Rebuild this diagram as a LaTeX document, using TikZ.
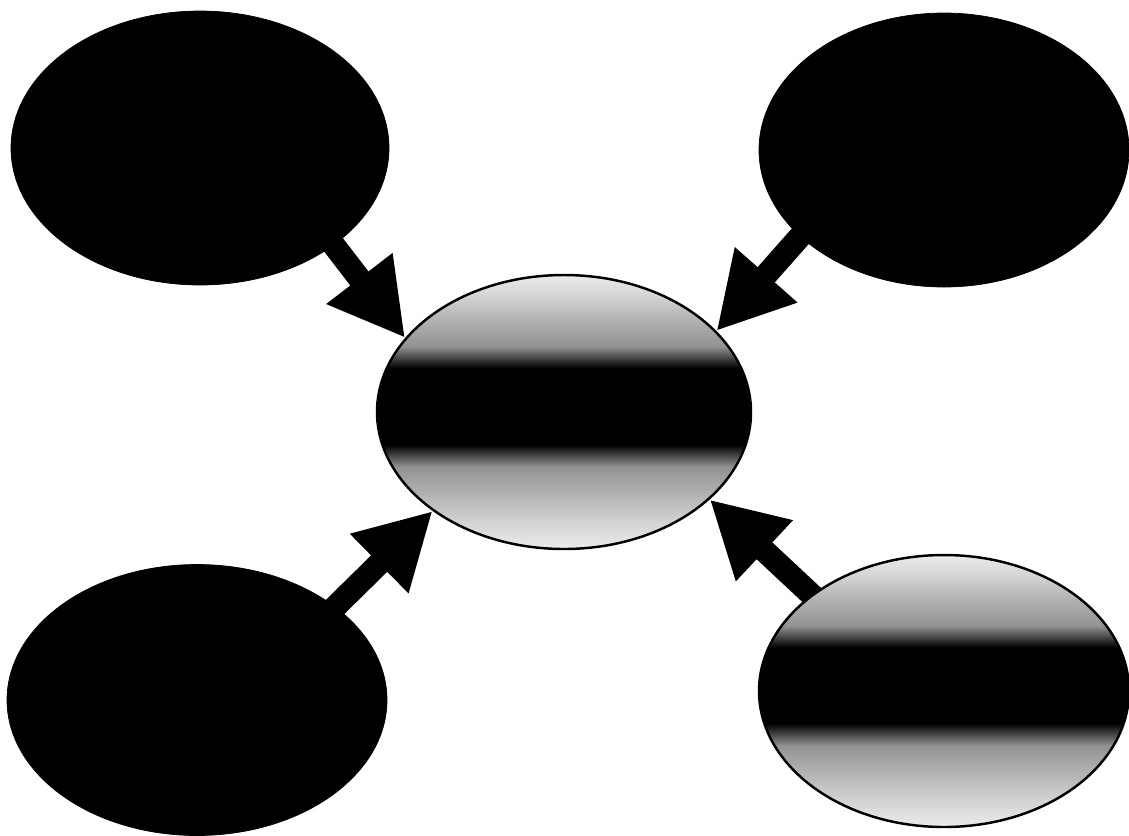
\documentclass[tikz,border=0pt]{standalone}
\usetikzlibrary{shapes.geometric, arrows.meta, backgrounds}
\pgfdeclareverticalshading{ovalshade}{100bp}{color(0bp)=(gray!15); color(25bp)=(gray!15); color(30bp)=(gray!35); color(35bp)=(gray!60); color(40bp)=(gray!85); color(44bp)=(black); color(58bp)=(black); color(62bp)=(gray!85); color(67bp)=(gray!60); color(71bp)=(gray!35); color(75bp)=(gray!15); color(100bp)=(gray!15)}

\begin{document}
\begin{tikzpicture}[
    blackoval/.style={draw=black, fill=black, ellipse, inner sep=0pt},
    shadeoval/.style={draw=black, line width=1.4pt, shading=ovalshade, ellipse, inner sep=0pt},
    bigarrow/.style={-{Triangle[width=1.56cm, length=1.5cm]}, line width=0.46cm, shorten <=-10pt}
]
    \useasboundingbox (0,0) rectangle (22.58,-16.70);

    % Outer ovals
    \node[blackoval, minimum width=7.56cm, minimum height=5.48cm] (tl) at (4.00,-2.96) {};
    \node[blackoval, minimum width=7.40cm, minimum height=5.48cm] (tr) at (18.88,-3.00) {};
    \node[blackoval, minimum width=7.60cm, minimum height=5.42cm] (bl) at (3.94,-14.00) {};
    \node[shadeoval, minimum width=7.40cm, minimum height=5.44cm] (br) at (18.88,-13.82) {};

    % Centre oval
    \node[shadeoval, minimum width=7.48cm, minimum height=5.48cm] (ctr) at (11.28,-8.24) {};

    % Arrows
    \begin{scope}[on background layer]
    \draw[bigarrow] (tl.-36.7) -- (ctr.155.3);
    \draw[bigarrow] (tr.-149.7) -- (ctr.28.8);
    \draw[bigarrow] (bl.34.4) -- (ctr.-143.4);
    \draw[bigarrow] (br.144.9) -- (ctr.-31.6);
    \end{scope}
\end{tikzpicture}
\end{document}
